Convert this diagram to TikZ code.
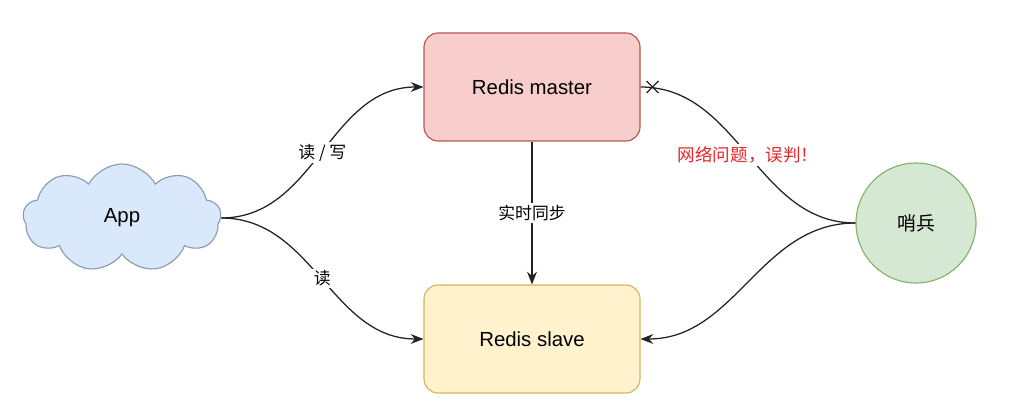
\documentclass[tikz,border=0pt]{standalone}
\usepackage{fontspec}
\setmainfont{Liberation Sans}
\newfontfamily\cjk{Noto Sans CJK SC}
\usepackage{xcolor}
\usetikzlibrary{shapes.symbols,arrows.meta,calc}
\definecolor{masterfill}{HTML}{F8CECC}
\definecolor{masterline}{HTML}{B85450}
\definecolor{slavefill}{HTML}{FFF2CC}
\definecolor{slaveline}{HTML}{D6B656}
\definecolor{appfill}{HTML}{DAE8FC}
\definecolor{appline}{HTML}{8A9BB0}
\definecolor{sentfill}{HTML}{D5E8D4}
\definecolor{sentline}{HTML}{82B366}
\definecolor{wire}{HTML}{222222}
\definecolor{warn}{HTML}{E8262B}
\tikzset{
  redisbox/.style={rounded corners=10pt, line width=0.8pt, minimum width=5.4cm, minimum height=2.7cm,
    font=\fontsize{14.5}{17}\selectfont},
  appcloud/.style={cloud, cloud puffs=9, cloud puff arc=125, aspect=1.85, draw=appline, fill=appfill,
    line width=0.8pt, minimum width=4.95cm, minimum height=2.7cm, inner sep=0pt,
    font=\fontsize{14.5}{17}\selectfont},
  sentinel/.style={circle, draw=sentline, fill=sentfill, line width=0.8pt, minimum size=3cm,
    font=\cjk\fontsize{13.5}{16}\selectfont},
  wirearrow/.style={draw=wire, line width=0.9pt, -{Stealth[length=9pt,width=7pt]}},
  plainwire/.style={draw=wire, line width=0.9pt},
  lab/.style={fill=white, inner sep=1.5pt, font=\cjk\fontsize{12}{14}\selectfont},
  warnlab/.style={fill=white, inner sep=1.5pt, text=warn, font=\cjk\fontsize{12.5}{14}\selectfont}
}
\begin{document}
\begin{tikzpicture}
  \useasboundingbox (0,0) rectangle (25.8,10.3);

  \node[redisbox, draw=masterline, fill=masterfill] (master) at (13.3,8.125) {Redis master};
  \node[redisbox, draw=slaveline, fill=slavefill] (slave) at (13.3,1.825) {Redis slave};
  \node[appcloud] (app) at (3.05,4.85) {App};
  \node[sentinel] (sent) at (22.9,4.725) {哨兵};

  % App reads and writes
  \draw[wirearrow] (app.east) to[out=0,in=180] node[lab, pos=0.5] {读 / 写} (master.west);
  \draw[wirearrow] (app.east) to[out=0,in=180] node[lab, pos=0.5] {读} (slave.west);

  % replication
  \draw[wirearrow] (master.south) -- node[lab] {实时同步} (slave.north);

  % sentinel
  \coordinate (cut) at ($(master.east)+(0.3,0)$);
  \draw[plainwire] (sent.west) to[out=180,in=0] node[warnlab, pos=0.5] {网络问题，误判！} (master.east);
  \draw[plainwire] ($(cut)+(-0.15,-0.15)$) -- ($(cut)+(0.15,0.15)$);
  \draw[plainwire] ($(cut)+(-0.15,0.15)$) -- ($(cut)+(0.15,-0.15)$);
  \draw[wirearrow] (sent.west) to[out=180,in=0] (slave.east);
\end{tikzpicture}
\end{document}
